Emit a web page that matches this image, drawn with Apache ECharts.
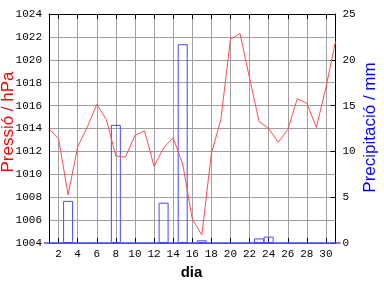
<!DOCTYPE html>
<html>
<head>
<meta charset="utf-8">
<script src="https://cdn.jsdelivr.net/npm/echarts@6/dist/echarts.min.js"></script>
<style>html,body{margin:0;padding:0;background:#fff}#c{width:384px;height:288px}</style>
</head>
<body>
<div id="c"></div>
<script>
var days = [];
for (var d = 1; d <= 31; d++) days.push(String(d));
var pressure = [1014.0, 1013.1, 1008.2, 1012.4, 1014.1, 1016.1, 1014.8, 1011.6, 1011.5, 1013.4,
                1013.8, 1010.7, 1012.3, 1013.2, 1010.9, 1006.1, 1004.7, 1011.8, 1014.8, 1021.8,
                1022.3, 1018.4, 1014.6, 1014.0, 1012.8, 1013.9, 1016.6, 1016.2, 1014.1, 1017.6, 1021.6];
var precip = [0, 0, 4.6, 0, 0, 0, 0, 12.9, 0, 0,
              0, 0, 4.4, 0, 21.7, 0, 0.3, 0, 0, 0,
              0, 0, 0.5, 0.7, 0, 0, 0, 0, 0, 0, 0];
var xTitle = 'dia';
var yTitle = 'Pressió / hPa';
var y2Title = 'Precipitació / mm';

var evenOnly = function (i) { return i % 2 === 1; };
var plain = function (v) { return String(v); };
var mono = 'Liberation Mono';
var chart = echarts.init(document.getElementById('c'), null, {renderer: 'canvas'});
chart.setOption({
  animation: false,
  backgroundColor: '#ffffff',
  grid: {left: 49, right: 48.5, top: 14, bottom: 45, containLabel: false},
  xAxis: [{
    type: 'category', data: days, boundaryGap: false, position: 'bottom',
    axisLine: {lineStyle: {color: '#4848ff', width: 1}},
    axisTick: {inside: true, length: 5, interval: evenOnly, lineStyle: {color: '#000'}},
    axisLabel: {interval: evenOnly, margin: 6, fontFamily: mono, fontSize: 11, color: '#000'},
    splitLine: {show: true, interval: evenOnly, lineStyle: {color: '#a0a0a0', width: 1}}
  }, {
    type: 'category', data: days, boundaryGap: false, position: 'top',
    axisLine: {lineStyle: {color: '#000', width: 1}},
    axisTick: {inside: true, length: 5, interval: evenOnly, lineStyle: {color: '#000'}},
    axisLabel: {show: false},
    splitLine: {show: false}
  }],
  yAxis: [{
    type: 'value', min: 1004, max: 1024, interval: 2, position: 'left',
    axisLine: {show: true, lineStyle: {color: '#000'}},
    axisTick: {show: false},
    axisLabel: {margin: 7, fontFamily: mono, fontSize: 11, color: '#000', formatter: plain},
    splitLine: {show: true, lineStyle: {color: '#a0a0a0', width: 1}}
  }, {
    type: 'value', min: 0, max: 25, interval: 5, position: 'right',
    axisLine: {show: true, lineStyle: {color: '#000'}},
    axisTick: {show: true, inside: true, length: 5, lineStyle: {color: '#000'}},
    axisLabel: {margin: 7, fontFamily: mono, fontSize: 11, color: '#000', formatter: plain},
    splitLine: {show: false}
  }],
  series: [{
    type: 'bar', name: 'precip', xAxisIndex: 0, yAxisIndex: 1, data: precip,
    barWidth: 10,
    itemStyle: {color: 'rgba(0,0,0,0)', borderColor: '#4848ff', borderWidth: 1},
    z: 3
  }, {
    type: 'line', name: 'pressure', xAxisIndex: 0, yAxisIndex: 0, data: pressure,
    showSymbol: false, symbol: 'none',
    lineStyle: {color: '#ff4d4d', width: 1},
    z: 4
  }],
  graphic: [{
    type: 'text', x: 191.5, y: 273,
    style: {text: xTitle, font: 'bold 15px "Liberation Sans"', fill: '#000', align: 'center', verticalAlign: 'middle'}
  }, {
    type: 'text', x: 8, y: 122, rotation: Math.PI / 2,
    style: {text: yTitle, font: '17px "Liberation Sans"', fill: '#ff0000', align: 'center', verticalAlign: 'middle'}
  }, {
    type: 'text', x: 370, y: 127.5, rotation: Math.PI / 2,
    style: {text: y2Title, font: '17px "Liberation Sans"', fill: '#0000ff', align: 'center', verticalAlign: 'middle'}
  }]
});
</script>
</body>
</html>
